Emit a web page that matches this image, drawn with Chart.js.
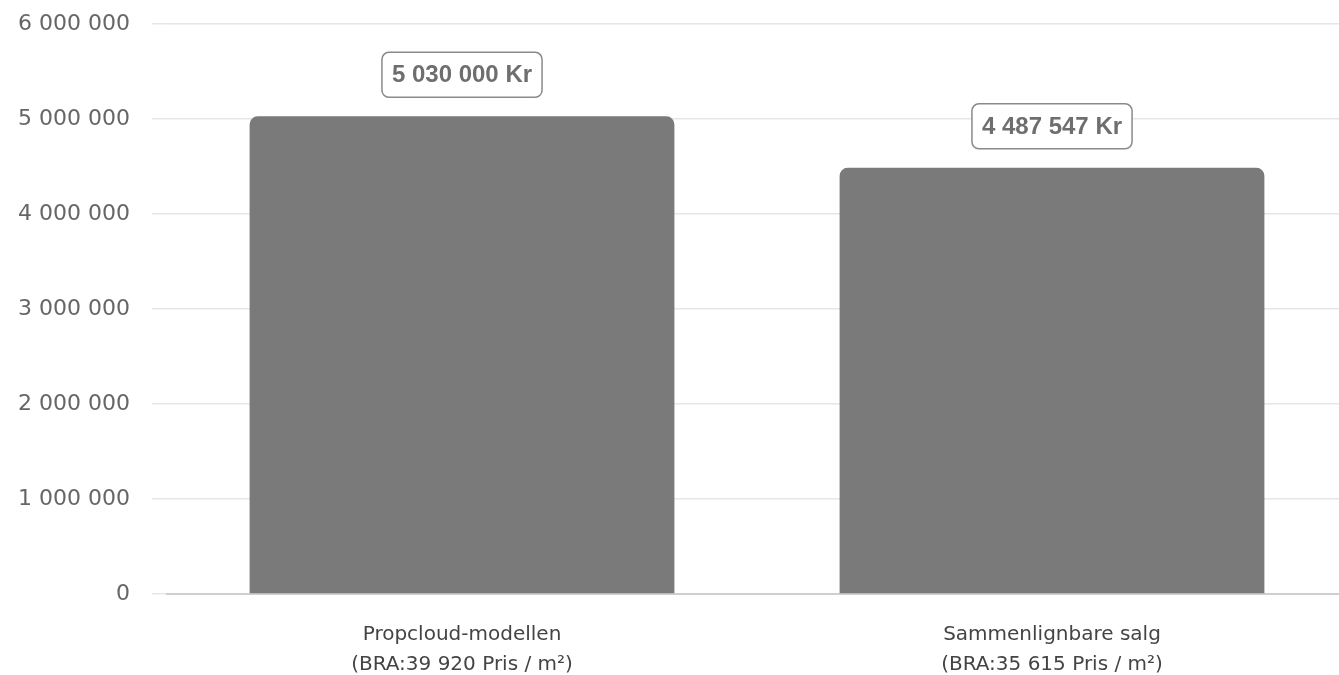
<!DOCTYPE html>
<html>
<head>
<meta charset="utf-8">
<script src="https://cdn.jsdelivr.net/npm/chart.js@4.4.0/dist/chart.umd.min.js"></script>
<style>
  html, body { margin: 0; padding: 0; background: #fff; overflow: hidden; }
  #wrap { width: 1347px; height: 709px; margin-top: -11px; }
</style>
</head>
<body>
<div id="wrap"><canvas id="barChart"></canvas></div>
<script>
const categories = [
    ['Propcloud-modellen', '(BRA:39 920 Pris / m²)'],
    ['Sammenlignbare salg', '(BRA:35 615 Pris / m²)']
]
const values = [5030000, 4487547]
const yTicks = [0, 1000000, 2000000, 3000000, 4000000, 5000000, 6000000]

const fmt = (v) => String(Math.round(v)).replace(/\B(?=(\d{3})+(?!\d))/g, ' ')

// draws the boxed value above each bar
const valueBoxes = {
    id: 'valueBoxes',
    afterDatasetsDraw(chart) {
        const ctx = chart.ctx
        const meta = chart.getDatasetMeta(0)
        ctx.save()
        ctx.font = 'bold 24px "Liberation Sans", Arial, sans-serif'
        ctx.textAlign = 'center'
        ctx.textBaseline = 'middle'
        meta.data.forEach((bar, i) => {
            const text = fmt(values[i]) + ' Kr'
            const w = ctx.measureText(text).width + 20
            const h = 45
            const x = bar.x - w / 2
            const y = bar.y - 19 - h
            ctx.beginPath()
            ctx.roundRect(x, y, w, h, 7)
            ctx.fillStyle = '#fff'
            ctx.fill()
            ctx.lineWidth = 1.5
            ctx.strokeStyle = '#8a8a8a'
            ctx.stroke()
            ctx.fillStyle = '#6e6e6e'
            ctx.fillText(text, bar.x, y + h / 2 + 1)
        })
        ctx.restore()
    }
}

const chartCtx = document.getElementById('barChart').getContext('2d')

new Chart(chartCtx, {
    type: 'bar',
    data: {
        labels: categories,
        datasets: [{
            label: '',
            data: values,
            backgroundColor: '#7a7a7a',
            borderRadius: { topLeft: 8, topRight: 8 },
            borderSkipped: 'bottom',
        }]
    },
    plugins: [valueBoxes],
    options: {
        responsive: true,
        maintainAspectRatio: false,
        animation: false,
        layout: {
            padding: { left: 12, top: 0, right: 0, bottom: 0 }
        },
        plugins: {
            legend: { display: false },
            tooltip: { enabled: false },
        },
        scales: {
            y: {
                min: 0,
                max: 6000000,
                afterBuildTicks: (axis) => {
                    axis.ticks = yTicks.map(v => ({ value: v }))
                },
                afterFit: (axis) => {
                    axis.width = 155
                },
                ticks: {
                    callback: (value) => fmt(value),
                    color: '#666',
                    padding: 22,
                    font: { family: 'DejaVu Sans', size: 22 },
                },
                grid: {
                    color: '#e6e6e6',
                    lineWidth: 1.5,
                    tickLength: 15,
                },
                border: { display: false },
            },
            x: {
                ticks: {
                    color: '#444',
                    padding: 18,
                    font: { family: 'DejaVu Sans', size: 20, lineHeight: 1.5 },
                },
                grid: { display: false },
                border: { color: '#cfcfcf', width: 2 },
            },
        },
    }
})
</script>
</body>
</html>
